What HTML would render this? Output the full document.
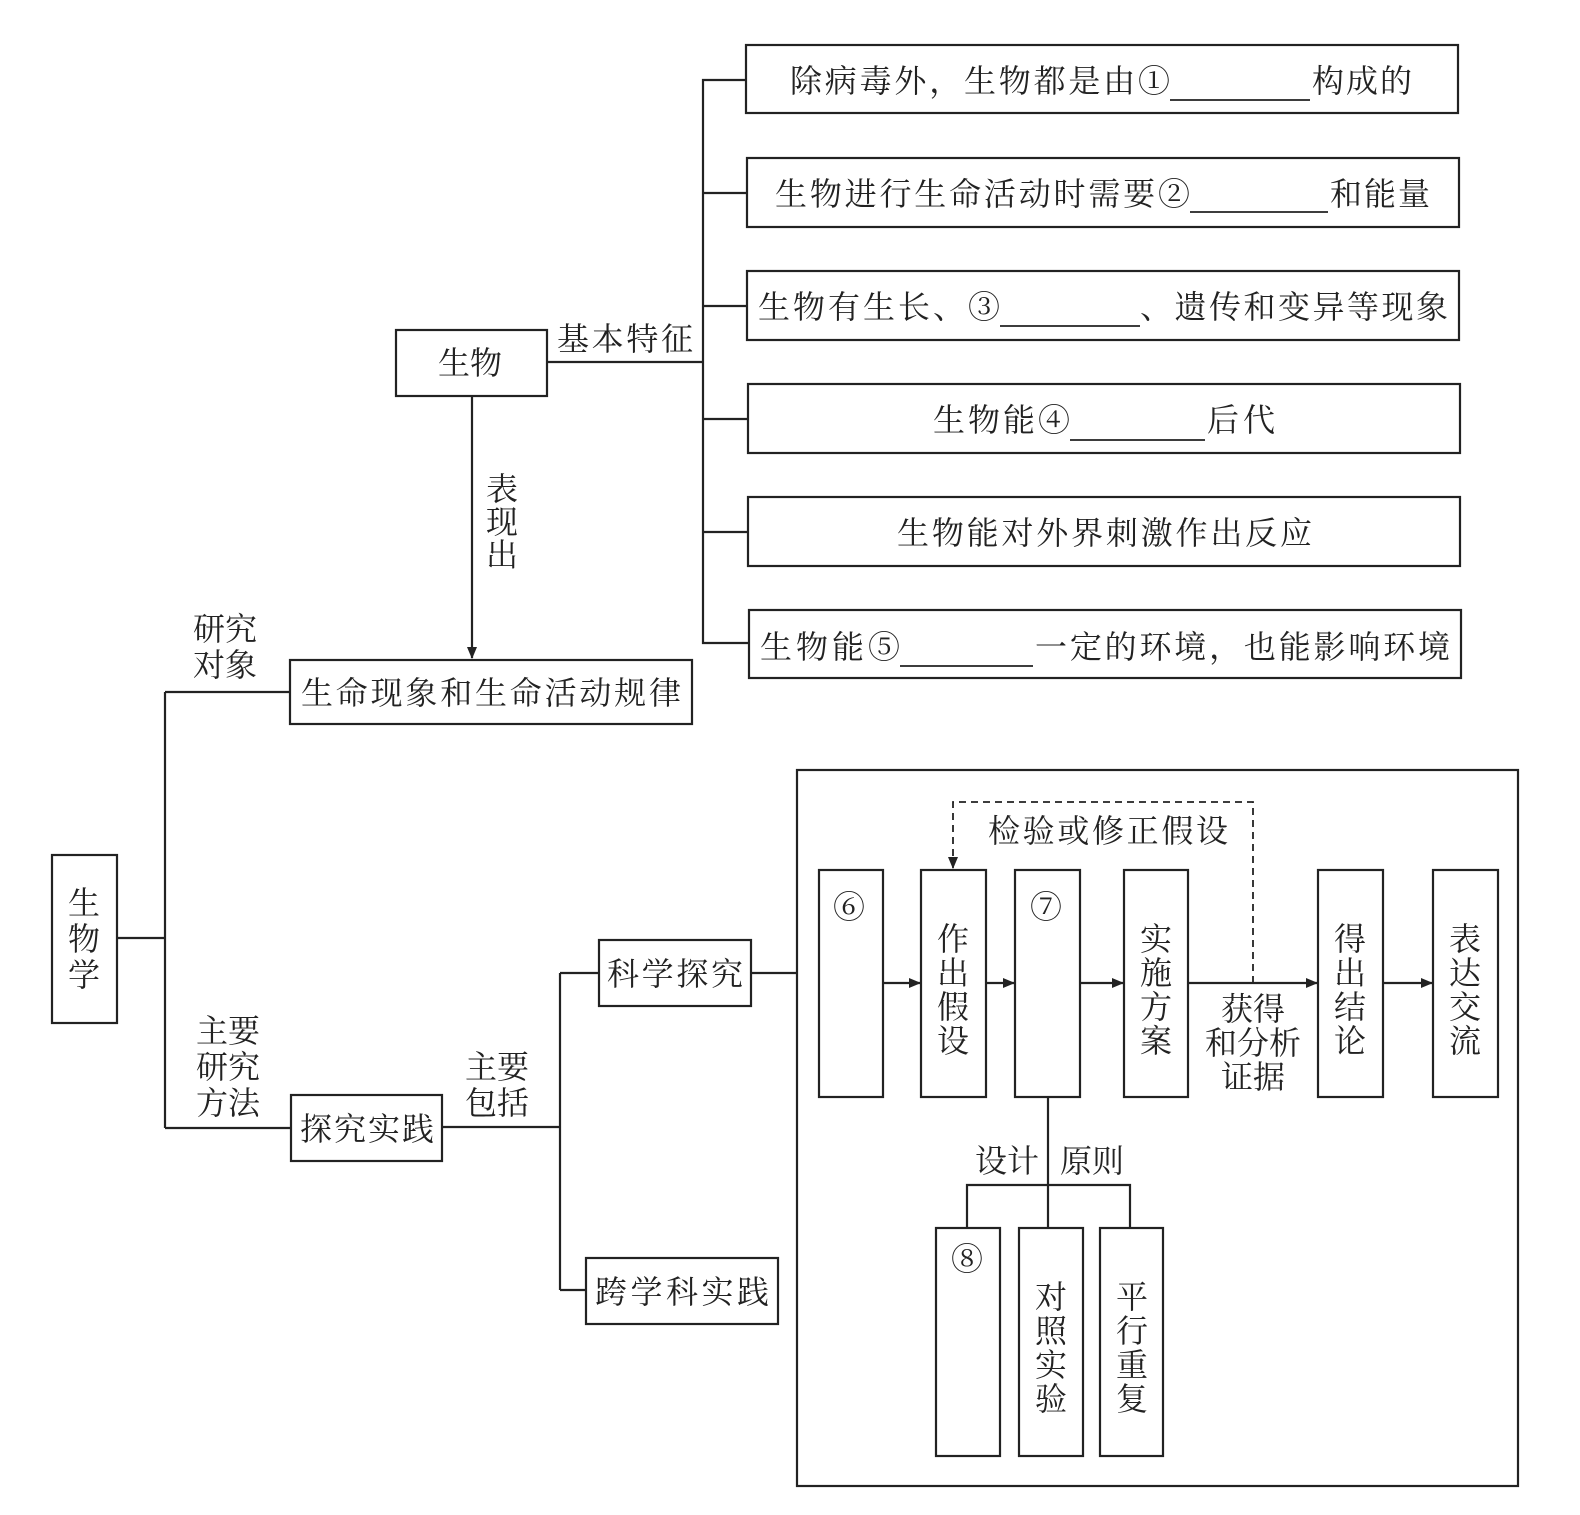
<!DOCTYPE html>
<html><head><meta charset="utf-8"><style>
html,body{margin:0;padding:0;background:#fff}
svg{display:block}
text{font-family:"Liberation Serif","Noto Serif CJK SC","Noto Sans CJK SC",serif;fill:#222;font-size:32px}
</style></head><body>
<svg width="1580" height="1515" viewBox="0 0 1580 1515" xmlns="http://www.w3.org/2000/svg">
<defs><marker id="ar" markerWidth="12" markerHeight="10" refX="11" refY="5" orient="auto" markerUnits="userSpaceOnUse"><path d="M0,0 L12,5 L0,10 Z" fill="#222"/></marker></defs>
<g stroke="#222" stroke-width="2.2" fill="none">
<!-- right boxes -->
<rect x="746" y="45" width="712" height="68"/>
<rect x="747" y="158" width="712" height="69"/>
<rect x="747" y="271" width="712" height="69"/>
<rect x="748" y="384" width="712" height="69"/>
<rect x="748" y="497" width="712" height="69"/>
<rect x="749" y="610" width="712" height="68"/>
<path d="M746,80 H703 V643 H749 M703,193 H747 M703,306 H747 M703,419 H748 M703,532 H748 M547,362 H703"/>
<!-- blanks -->
<path d="M1170,100 H1310 M1190,212 H1328 M1000,326 H1140 M1070,440 H1205 M900,666 H1033" stroke-width="1.8"/>
<rect x="396" y="330" width="151" height="66"/>
<line x1="472" y1="396" x2="472" y2="658" marker-end="url(#ar)"/>
<rect x="290" y="660" width="402" height="64"/>
<rect x="52" y="855" width="65" height="168"/>
<path d="M117,938 H165 M165,692 V1128 M165,692 H290 M165,1128 H291"/>
<rect x="291" y="1095" width="151" height="66"/>
<path d="M442,1127 H560 M560,973 V1290 M560,973 H599 M560,1290 H586 M751,973 H797"/>
<rect x="599" y="940" width="152" height="66"/>
<rect x="586" y="1258" width="192" height="66"/>
<rect x="797" y="770" width="721" height="716"/>
<rect x="819" y="870" width="64" height="227"/>
<rect x="921" y="870" width="65" height="227"/>
<rect x="1015" y="870" width="65" height="227"/>
<rect x="1124" y="870" width="64" height="227"/>
<rect x="1318" y="870" width="65" height="227"/>
<rect x="1433" y="870" width="65" height="227"/>
<line x1="883" y1="983" x2="920" y2="983" marker-end="url(#ar)"/>
<line x1="986" y1="983" x2="1014" y2="983" marker-end="url(#ar)"/>
<line x1="1080" y1="983" x2="1123" y2="983" marker-end="url(#ar)"/>
<line x1="1188" y1="983" x2="1317" y2="983" marker-end="url(#ar)"/>
<line x1="1383" y1="983" x2="1432" y2="983" marker-end="url(#ar)"/>
<path d="M1253,983 V802 H953 V868" stroke-dasharray="7,5" stroke-width="1.8" marker-end="url(#ar)"/>
<path d="M1048,1097 V1228 M967,1228 V1185 H1130 V1228"/>
<rect x="936" y="1228" width="64" height="228"/>
<rect x="1019" y="1228" width="64" height="228"/>
<rect x="1100" y="1228" width="63" height="228"/>
</g>
<!-- texts -->
<text x="790" y="92" textLength="380">除病毒外，生物都是由①</text>
<text x="1312" y="92" textLength="100">构成的</text>
<text x="775" y="205" textLength="415">生物进行生命活动时需要②</text>
<text x="1330" y="205" textLength="100">和能量</text>
<text x="758" y="318" textLength="242">生物有生长、③</text>
<text x="1140" y="318" textLength="308">、遗传和变异等现象</text>
<text x="933" y="431" textLength="137">生物能④</text>
<text x="1207" y="431" textLength="68">后代</text>
<text x="897" y="544" textLength="415">生物能对外界刺激作出反应</text>
<text x="760" y="658" textLength="140">生物能⑤</text>
<text x="1035" y="658" textLength="415">一定的环境，也能影响环境</text>
<text x="438" y="374">生物</text>
<text x="557" y="350" textLength="136">基本特征</text>
<text x="486" y="500">表</text><text x="486" y="533">现</text><text x="486" y="566">出</text>
<text x="301" y="704" textLength="380">生命现象和生命活动规律</text>
<text x="193" y="640">研究</text><text x="193" y="676">对象</text>
<text x="68" y="914">生</text><text x="68" y="950">物</text><text x="68" y="986">学</text>
<text x="196" y="1042">主要</text><text x="196" y="1078">研究</text><text x="196" y="1114">方法</text>
<text x="300" y="1140" textLength="134">探究实践</text>
<text x="465" y="1078">主要</text><text x="465" y="1114">包括</text>
<text x="607" y="985" textLength="136">科学探究</text>
<text x="595" y="1303" textLength="174">跨学科实践</text>
<text x="988" y="842" textLength="240">检验或修正假设</text>
<text x="833" y="918">⑥</text>
<text x="1030" y="918">⑦</text>
<text x="951" y="1270">⑧</text>
<text x="937" y="950">作</text><text x="937" y="984">出</text><text x="937" y="1018">假</text><text x="937" y="1052">设</text>
<text x="1140" y="950">实</text><text x="1140" y="984">施</text><text x="1140" y="1018">方</text><text x="1140" y="1052">案</text>
<text x="1334" y="950">得</text><text x="1334" y="984">出</text><text x="1334" y="1018">结</text><text x="1334" y="1052">论</text>
<text x="1449" y="950">表</text><text x="1449" y="984">达</text><text x="1449" y="1018">交</text><text x="1449" y="1052">流</text>
<text x="1253" y="1020" text-anchor="middle">获得</text>
<text x="1253" y="1054" text-anchor="middle">和分析</text>
<text x="1253" y="1088" text-anchor="middle">证据</text>
<text x="975" y="1172">设计</text><text x="1060" y="1172">原则</text>
<text x="1035" y="1308">对</text><text x="1035" y="1342">照</text><text x="1035" y="1376">实</text><text x="1035" y="1410">验</text>
<text x="1116" y="1308">平</text><text x="1116" y="1342">行</text><text x="1116" y="1376">重</text><text x="1116" y="1410">复</text>
</svg>
</body></html>
